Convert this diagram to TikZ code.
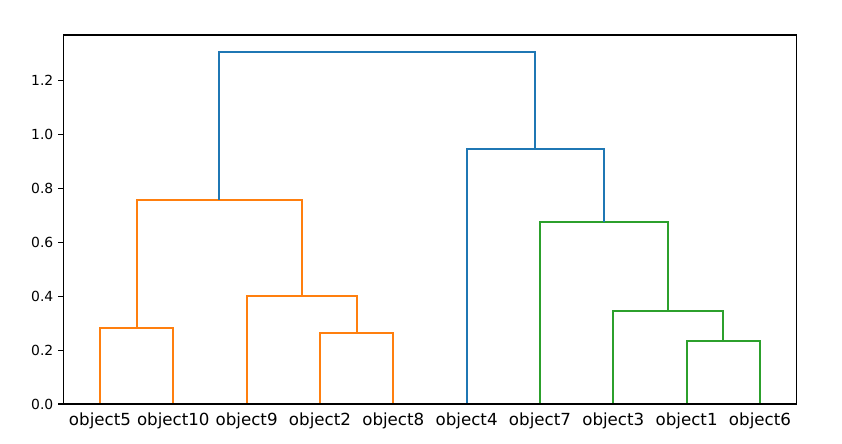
\documentclass[tikz,border=0pt]{standalone}
\usepackage{fontspec}
\setmainfont{DejaVu Sans}
\usetikzlibrary{positioning}
\definecolor{tabblue}{HTML}{1F77B4}
\definecolor{taborange}{HTML}{FF7F0E}
\definecolor{tabgreen}{HTML}{2CA02C}
\newcommand\Ymax{1.3697}
\newcommand\LabelY{-0.078}
\tikzset{
  link/.style={
    line width = 1.5bp,
    line cap = butt,
    line join = miter
  },
  frame/.style={
    line width = 0.8bp
  },
  leaflabel/.style={
    anchor = base,
    font = \fontsize{12bp}{14bp}\selectfont,
    inner sep = 0pt
  },
  ticklabel/.style={
    anchor = east,
    font = \fontsize{10bp}{12bp}\selectfont,
    inner sep = 0pt
  }
}
\begin{document}
\begin{tikzpicture}[x=5.28bp, y=193.97bp]
    \useasboundingbox (-8.632,-0.1448) rectangle (106.186,1.4996);

    % leaves
    \foreach \name/\x in {5/5,10/15,9/25,2/35,8/45,4/55,7/65,3/75,1/85,6/95} {
        \coordinate (o\name) at (\x,0);
        \node[leaflabel] (lab\name) at (\x,\LabelY) {object\name};
    }

    % merge points
    \coordinate (c510) at (10,0.283);
    \coordinate (c28) at (40,0.263);
    \coordinate (c928) at (32.5,0.401);
    \coordinate (corange) at (21.25,0.757);
    \coordinate (c16) at (90,0.234);
    \coordinate (c316) at (82.5,0.345);
    \coordinate (cgreen) at (73.75,0.676);
    \coordinate (c4g) at (64.375,0.9465);
    \coordinate (croot) at (42.8125,1.307);

    \draw[link, taborange] (o5) |- (c510) -| (o10);
    \draw[link, taborange] (o2) |- (c28) -| (o8);
    \draw[link, taborange] (o9) |- (c928) -| (c28);
    \draw[link, taborange] (c510) |- (corange) -| (c928);
    \draw[link, tabgreen] (o1) |- (c16) -| (o6);
    \draw[link, tabgreen] (o3) |- (c316) -| (c16);
    \draw[link, tabgreen] (o7) |- (cgreen) -| (c316);
    \draw[link, tabblue] (o4) |- (c4g) -| (cgreen);
    \draw[link, tabblue] (corange) |- (croot) -| (c4g);

    % axes
    \draw[frame] (0,0) rectangle (100,\Ymax);
    \foreach \v [count=\i] in {0.0,0.2,0.4,0.6,0.8,1.0,1.2} {
        \coordinate (yt\i) at (0,\v);
        \draw[frame] (yt\i) -- ++(-3.5bp,0);
        \node[ticklabel] (ylab\i) at ([xshift=-7bp]yt\i) {\v};
    }
\end{tikzpicture}
\end{document}
